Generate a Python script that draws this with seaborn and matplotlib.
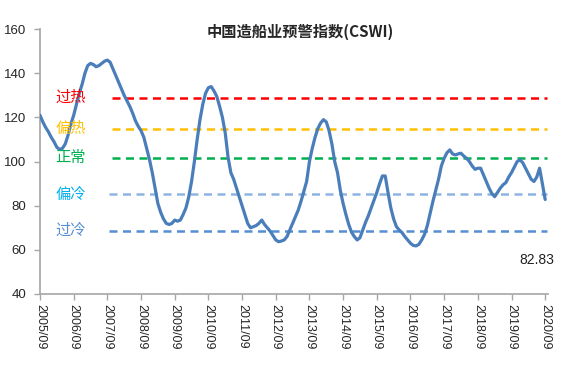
import matplotlib
matplotlib.use("Agg")
import matplotlib.pyplot as plt
import seaborn as sns
import pandas as pd
import numpy as np

# ---- data (monthly, 2005/09 - 2020/09) ----
cswi = [
    121, 118, 115.5, 113.5, 111, 109, 106.5, 105.5, 106, 108, 112, 117,
    121, 126, 131, 135, 140, 143.5, 144.5, 144, 143, 143.5, 144.5, 145.5,
    146, 145, 142, 139, 136, 133, 130, 127.5, 125, 122, 118.5, 116,
    114, 111, 106, 101, 95, 88, 81, 77, 74, 72, 71.5, 72,
    73.5, 73, 73.5, 76, 79, 84, 91, 100, 110, 119, 126, 131,
    133.5, 134, 132, 129.5, 125, 120, 113, 102, 95, 92, 88, 84,
    80, 76, 72, 70, 70.5, 71, 72, 73.5, 71.5, 70, 68.5, 66.5,
    64.5, 63.7, 64, 64.5, 66, 69, 72, 75, 78, 82, 86.5, 91,
    100, 106, 111, 115, 117.5, 119, 118, 114, 108, 100, 95, 87,
    81, 76, 71.5, 68, 66, 64.5, 65.5, 69, 72.5, 75.5, 79, 82.5,
    86, 90, 93.5, 93.5, 86, 79, 74, 70.5, 69, 67.8, 66, 64.5,
    63, 62, 61.8, 62.5, 64.5, 67, 71, 76.5, 82, 87, 92, 98,
    101.5, 104, 105.3, 103.5, 103, 103.5, 103.8, 102.5, 101.5, 100, 98, 96.5,
    97, 97, 94, 91, 88, 85.5, 84.1, 86, 88, 89.5, 90.5, 93,
    95, 97.5, 100, 100.8, 99.5, 97, 94.5, 92, 91, 93, 97, 90,
    82.83,
]
years = list(range(2005, 2021))
tick_labels = [f"{y}/09" for y in years]

levels = ["过热", "偏热", "正常", "偏冷", "过冷"]
level_values = [129, 115, 101.8, 85.2, 68.7]
level_line_colors = ["#FF0000", "#FFC000", "#00B050", "#8DB4E2", "#558ED5"]
level_text_colors = ["#FF0000", "#FFC000", "#00B050", "#00B0F0", "#558ED5"]

title = "中国造船业预警指数(CSWI)"
last_label = "82.83"

# ---- plot ----
sns.set_theme(style="white")
plt.rcParams["font.family"] = ["Liberation Sans", "Noto Sans CJK SC", "DejaVu Sans"]

fig = plt.figure(figsize=(5.71, 3.71), dpi=100)
ax = fig.add_axes([40 / 571, 1 - 294 / 371, 508 / 571, (294 - 29.2) / 371])

df = pd.DataFrame({"m": np.arange(len(cswi)), "v": cswi})

for val, col, start in zip(level_values, level_line_colors, [25.6, 25.6, 25.6, 24.6, 24.6]):
    ax.plot([start, 180.5], [val, val], color=col, lw=1.8, dashes=(3.2, 2.2),
            dash_capstyle="butt", zorder=1)

sns.lineplot(data=df, x="m", y="v", ax=ax, color="#4A7EBB", lw=2.3, zorder=3)

for lab, val, col in zip(levels, level_values, level_text_colors):
    ax.text(11, val, lab, color=col, fontsize=11, ha="center", va="center",
            family=["Noto Sans CJK SC", "DejaVu Sans"])

ax.text(177, 55.4, last_label, fontsize=10, ha="center", va="center", color="#222222")

fig.text(0.525, 1 - 32 / 371, title, fontsize=11, fontweight="bold", ha="center",
         va="center", family=["Noto Sans CJK SC", "DejaVu Sans"])

ax.set_xlim(0, 181)
ax.set_ylim(40, 160)
ax.set_yticks(range(40, 161, 20))
ax.set_xticks(range(0, 181, 12))
ax.set_xticklabels(tick_labels, rotation=270, fontsize=9)
ax.tick_params(axis="y", labelsize=9.5, length=4, width=1, color="#A6A6A6", direction="out", pad=6)
ax.tick_params(axis="x", length=4, width=1, color="#A6A6A6", direction="out", pad=3)
ax.tick_params(left=True, bottom=True)
ax.set_xlabel("")
ax.set_ylabel("")
for s in ["top", "right"]:
    ax.spines[s].set_visible(False)
for s in ["left", "bottom"]:
    ax.spines[s].set_color("#A6A6A6")
    ax.spines[s].set_linewidth(1.2)

fig.savefig("out.png", dpi=100, facecolor="white")
